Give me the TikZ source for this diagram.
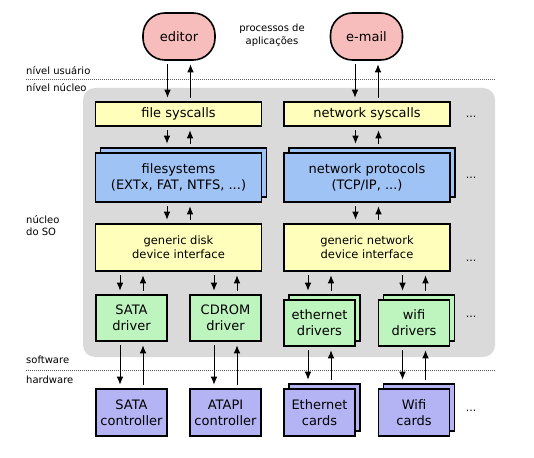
\documentclass[tikz,border=0pt]{standalone}
\usepackage{fontspec}
\setmainfont{DejaVu Sans}
\usetikzlibrary{arrows.meta,shadows}

\definecolor{apppink}{HTML}{F7BDBD}
\definecolor{callyellow}{HTML}{FFFFBB}
\definecolor{layerblue}{HTML}{A0C3F5}
\definecolor{drvgreen}{HTML}{BEF5BE}
\definecolor{hwpurple}{HTML}{B4B4F5}
\definecolor{kernelgray}{HTML}{DADADA}

\begin{document}
\begin{tikzpicture}[x=1pt,y=-1pt,
    box/.style={draw,line width=1.6pt,inner sep=0pt,align=center,font=\fontsize{13}{16}\selectfont},
    app/.style={box,fill=apppink,rounded corners=22pt,minimum width=72pt,minimum height=47pt},
    call/.style={box,fill=callyellow,minimum width=166pt,minimum height=24pt},
    layer/.style={box,fill=layerblue,minimum width=166pt,minimum height=49pt},
    iface/.style={box,fill=callyellow,minimum width=166pt,minimum height=47pt,font=\fontsize{11.5}{14}\selectfont},
    drv/.style={box,fill=drvgreen,minimum width=71pt,minimum height=46pt},
    ctrl/.style={box,fill=hwpurple,minimum width=71pt,minimum height=47pt},
    stack/.style={copy shadow={shadow xshift=5pt,shadow yshift=5pt}},
    lbl/.style={font=\fontsize{10}{12}\selectfont,anchor=west,align=left,inner sep=0pt},
    more/.style={font=\fontsize{11}{12}\selectfont,inner sep=0pt},
    sep/.style={line width=0.8pt,gray!70!black,dash pattern=on 1pt off 1pt},
    dn/.style={-{Latex[length=8pt,width=6.5pt]},line width=0.8pt,shorten >=3.5pt,shorten <=3.5pt}]

    \useasboundingbox (0,0) rectangle (534,457);

    % kernel area and level separators
    \fill[kernelgray,rounded corners=12pt] (83,88) rectangle (495,357);
    \draw[sep] (26,79) -- (495,79);
    \draw[sep] (26,370) -- (495,370);

    \node[lbl] (user) at (26,71) {nível usuário};
    \node[lbl] (kern) at (26,88) {nível núcleo};
    \node[lbl] (core) at (26,226) {núcleo\\do SO};
    \node[lbl] (soft) at (26,360) {software};
    \node[lbl] (hard) at (26,380) {hardware};

    % applications
    \node[app] (editor) at (179,36.5) {editor};
    \node[app] (email) at (366.5,36.5) {e-mail};
    \node[font=\fontsize{10}{13}\selectfont,align=center] (proc) at (272,35) {processos de\\aplicações};

    % kernel layers
    \node[call] (fsys) at (178.5,114) {file syscalls};
    \node[call] (nsys) at (367,114) {network syscalls};
    \node[layer,stack] (fs) at (178.5,177.5) {filesystems\\(EXTx, FAT, NTFS, ...)};
    \node[layer,stack] (np) at (367,177.5) {network protocols\\(TCP/IP, ...)};
    \node[iface] (gdisk) at (178.5,247.5) {generic disk\\device interface};
    \node[iface] (gnet) at (367,247.5) {generic network\\device interface};

    \node[drv] (sata) at (131.5,318) {SATA\\driver};
    \node[drv] (cdrom) at (225.5,318) {CDROM\\driver};
    \node[drv,stack] (eth) at (319.5,323) {ethernet\\drivers};
    \node[drv,stack] (wifi) at (414,323) {wifi\\drivers};

    % hardware
    \node[ctrl] (satac) at (131.5,412.5) {SATA\\controller};
    \node[ctrl] (atapi) at (225.5,412.5) {ATAPI\\controller};
    \node[ctrl,stack] (ethc) at (319.5,412.5) {Ethernet\\cards};
    \node[ctrl,stack] (wific) at (414,412.5) {Wifi\\cards};

    \node[more] (m1) at (471,117) {...};
    \node[more] (m2) at (471,178) {...};
    \node[more] (m3) at (471,261) {...};
    \node[more] (m4) at (471,317) {...};
    \node[more] (m5) at (471,411) {...};

    % tops of the stacked boxes
    \coordinate (fstop) at ([yshift=5pt]fs.north);
    \coordinate (nptop) at ([yshift=5pt]np.north);
    \coordinate (ethtop) at ([yshift=5pt]eth.north);
    \coordinate (wifitop) at ([yshift=5pt]wifi.north);
    \coordinate (ethctop) at ([yshift=5pt]ethc.north);
    \coordinate (wifictop) at ([yshift=5pt]wific.north);

    % requests down, replies up
    \foreach \a/\b/\x in {editor/fsys.north/179, email/nsys.north/366.5,
        fsys/fstop/178.5, nsys/nptop/367, fs/gdisk.north/178.5, np/gnet.north/367,
        gdisk/sata.north/131.5, gdisk/cdrom.north/225.5, gnet/ethtop/319.5, gnet/wifitop/414,
        sata/satac.north/131.5, cdrom/atapi.north/225.5, eth/ethctop/319.5, wifi/wifictop/414} {
        \draw[dn] (\x-11.5,0 |- \a.south) -- (\x-11.5,0 |- \b);
        \draw[dn] (\x+11.5,0 |- \b) -- (\x+11.5,0 |- \a.south);
    }
\end{tikzpicture}
\end{document}
